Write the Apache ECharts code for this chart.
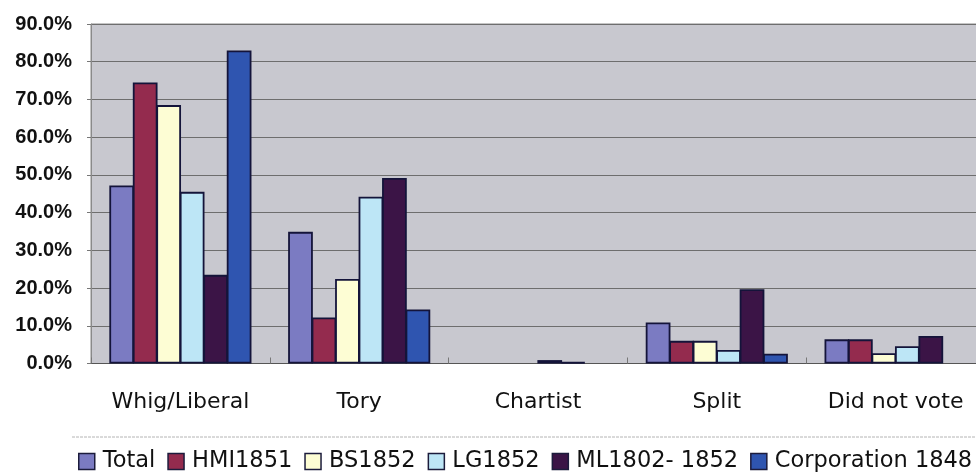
<!DOCTYPE html>
<html>
<head>
<meta charset="utf-8">
<script src="https://cdn.jsdelivr.net/npm/echarts@6/dist/echarts.min.js"></script>
<style>
  html, body { margin: 0; padding: 0; background: #ffffff; overflow: hidden; }
  /* the plot runs a little past the right edge of the window */
  #chart { width: 990px; height: 476px; }
</style>
</head>
<body>
<div id="chart"></div>
<script>
// Voting behaviour by group, share of each group (%)
const categories = ['Whig/Liberal', 'Tory', 'Chartist', 'Split', 'Did not vote'];
const seriesNames = ['Total', 'HMI1851', 'BS1852', 'LG1852', 'ML1802- 1852', 'Corporation 1848'];
const totalVals = [47.2, 34.9, 0.0, 10.9, 6.4];
const hmiVals   = [74.5, 12.2, 0.0, 6.0, 6.4];
const bsVals    = [68.5, 22.4, 0.0, 6.0, 2.7];
const lgVals    = [45.5, 44.2, 0.9, 3.6, 4.6];
const mlVals    = [23.5, 49.2, 0.4, 19.7, 7.3];
const corpVals  = [83.0, 14.3, 0.0, 2.6, 0.0];
const yTicks    = [0, 10, 20, 30, 40, 50, 60, 70, 80, 90];

const seriesValues = [totalVals, hmiVals, bsVals, lgVals, mlVals, corpVals];
const colors = ['#7b7bc2', '#942b4e', '#fdfdd4', '#bde6f6', '#3b1446', '#2f55b0'];

const chart = echarts.init(document.getElementById('chart'), null, { renderer: 'canvas' });

chart.setOption({
  animation: false,
  backgroundColor: '#ffffff',
  color: colors,
  grid: {
    left: 91,
    top: 24,
    right: 5,
    bottom: 112.5,
    show: true,
    backgroundColor: '#c8c8cf',
    borderColor: '#8a8a8a',
    borderWidth: 1
  },
  legend: {
    left: 78,
    top: 450,
    padding: 0,
    itemWidth: 16,
    itemHeight: 16,
    itemGap: 12,
    icon: 'rect',
    itemStyle: { borderColor: '#1c1c3c', borderWidth: 1.5 },
    textStyle: { fontFamily: 'DejaVu Sans', fontSize: 22.5, color: '#111111', padding: [0, 0, 0, 3] },
    data: seriesNames
  },
  graphic: [{
    type: 'line',
    shape: { x1: 72, y1: 437, x2: 990, y2: 437 },
    style: { stroke: '#b4b4b4', lineWidth: 1, lineDash: [3, 1] },
    silent: true
  }],
  xAxis: {
    type: 'category',
    data: categories,
    axisLine: { show: true, lineStyle: { color: '#555555', width: 1 } },
    axisTick: { show: true, inside: true, length: 6, lineStyle: { color: '#777777' } },
    axisLabel: {
      interval: 0,
      margin: 28,
      fontFamily: 'DejaVu Sans',
      fontSize: 22,
      color: '#111111'
    }
  },
  yAxis: {
    type: 'value',
    min: yTicks[0],
    max: yTicks[yTicks.length - 1],
    interval: 10,
    axisLine: { show: true, lineStyle: { color: '#8a8a8a' } },
    axisTick: { show: true, length: 4, lineStyle: { color: '#777777' } },
    splitLine: { show: true, lineStyle: { color: '#6e6e6e', width: 1 } },
    axisLabel: {
      margin: 19,
      fontFamily: 'Liberation Sans',
      fontWeight: 'bold',
      fontSize: 20,
      color: '#111111',
      formatter: v => v.toFixed(1) + '%'
    }
  },
  // zero shares are left empty so no outline is drawn on the axis;
  // neighbouring bars overlap slightly so their outlines merge into one
  series: seriesNames.map((name, i) => ({
    name: name,
    type: 'bar',
    data: seriesValues[i].map(v => (v === 0 ? '-' : v)),
    barGap: '-5%',
    barCategoryGap: '20.5%',
    itemStyle: { color: colors[i], borderColor: '#14143a', borderWidth: 1.8 }
  }))
});
</script>
</body>
</html>
